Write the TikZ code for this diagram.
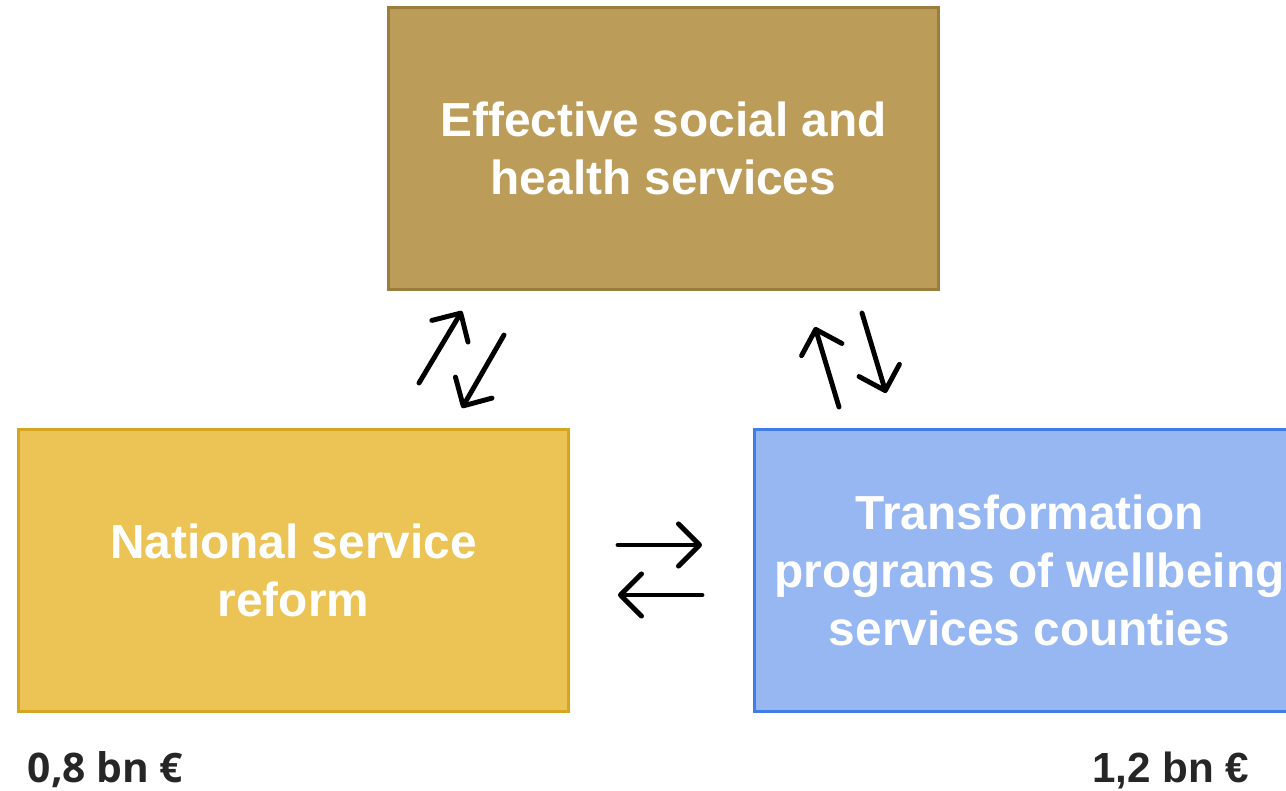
\documentclass[tikz,border=0pt]{standalone}
\usepackage{fontspec}
\setmainfont{Liberation Sans}
\newfontfamily\opensans{Open Sans}
\usetikzlibrary{positioning, arrows.meta}

\definecolor{goalfill}{RGB}{187,156,89}
\definecolor{goalline}{RGB}{155,125,62}
\definecolor{reformfill}{RGB}{236,195,85}
\definecolor{reformline}{RGB}{214,166,35}
\definecolor{countyfill}{RGB}{150,183,242}
\definecolor{countyline}{RGB}{66,125,230}
\definecolor{costtext}{RGB}{38,38,38}

\begin{document}
\begin{tikzpicture}[
every node/.style={
    rectangle,
    align=center,
    font=\fontsize{13.6}{16.5}\selectfont\bfseries,
    },
box/.style={
    draw,
    line width=0.85pt,
    minimum width=5.5cm,
    minimum height=2.82cm,
    text=white,
    },
cost/.style={
    inner sep=0pt,
    text=costtext,
    font=\fontsize{12}{14}\selectfont\bfseries,
    },
every edge/.style={
    draw,
    line width=1.4pt,
    line cap=round,
    -{Straight Barb[length=6pt,width=12pt,line cap=round,line join=round]},
    },
]
\useasboundingbox (0,0) rectangle (12.86,-7.90);

\node (goal) [box, fill=goalfill, draw=goalline] at (6.635,-1.485)
          {Effective social and \\ health services};
\node (reform) [box, fill=reformfill, draw=reformline,
          below left=1.37cm and -1.83cm of goal.south west]
          {National service \\ reform};
\node (county) [box, fill=countyfill, draw=countyline,
          below right=1.37cm and -1.87cm of goal.south east]
          {Transformation \\ programs of wellbeing \\ services counties};

\node (reformcost) [cost, below right=0.38cm and 0.1cm of reform.south west]
          {\fontsize{11.6}{14}\selectfont\opensans 0,8 bn €};
\node (countycost) [cost, below left=0.38cm and 0.56cm of county.south east]
          {1,2 bn €};

% loose arrow pairs between the boxes
\coordinate (rg1) at (4.19,-3.83);
\coordinate (rg2) at (4.62,-3.11);
\coordinate (gr1) at (5.04,-3.35);
\coordinate (gr2) at (4.62,-4.08);
\coordinate (cg1) at (8.39,-4.07);
\coordinate (cg2) at (8.15,-3.27);
\coordinate (gc1) at (8.62,-3.13);
\coordinate (gc2) at (8.86,-3.93);
\coordinate (rc1) at (6.18,-5.45);
\coordinate (rc2) at (7.02,-5.45);
\coordinate (cr1) at (7.02,-5.95);
\coordinate (cr2) at (6.18,-5.95);

\path (rg1) edge (rg2)
      (gr1) edge (gr2)
      (cg1) edge (cg2)
      (gc1) edge (gc2)
      (rc1) edge (rc2)
      (cr1) edge (cr2);
\end{tikzpicture}
\end{document}
